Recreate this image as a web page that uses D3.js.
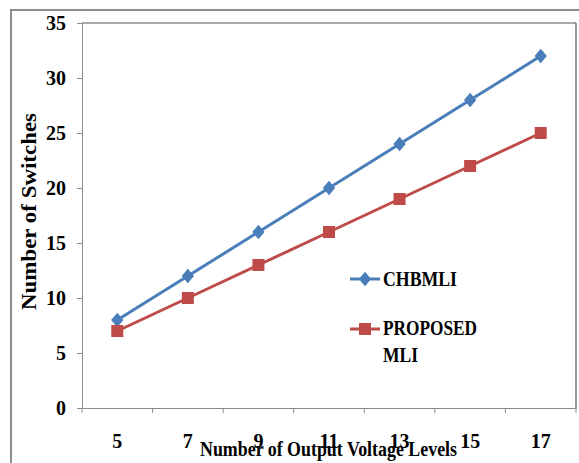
<!DOCTYPE html>
<html><head><meta charset="utf-8">
<script src="https://cdn.jsdelivr.net/npm/d3@7"></script>
<style>body{margin:0;background:#fff}svg{display:block}text{font-family:"Liberation Serif","Times New Roman",serif;font-weight:bold;fill:#000}</style>
</head><body>
<script>
const categories = ["5","7","9","11","13","15","17"];
const chbmli = [8,12,16,20,24,28,32];
const proposed = [7,10,13,16,19,22,25];
const yTicks = [0,5,10,15,20,25,30,35];

const W=579,H=463;
const svg=d3.select("body").append("svg").attr("width",W).attr("height",H);
const L=82,R=576,T=23,B=408;
const x=d3.scaleBand().domain(categories).range([L,R]);
const y=d3.scaleLinear().domain([0,35]).range([B,T]);

// outer frame
svg.append("rect").attr("x",11).attr("y",10).attr("width",W+10).attr("height",H+10)
  .attr("fill","none").attr("stroke","#8c8c8c").attr("stroke-width",2);
// plot frame top/right
svg.append("line").attr("x1",L).attr("x2",R).attr("y1",T).attr("y2",T).attr("stroke","#8c8c8c").attr("stroke-width",1.5);
svg.append("line").attr("x1",R).attr("x2",R).attr("y1",T).attr("y2",B).attr("stroke","#555").attr("stroke-width",1.2);

const yAxis=svg.append("g").attr("transform",`translate(${L},0)`)
  .call(d3.axisLeft(y).tickValues(yTicks).tickSize(5).tickPadding(11));
yAxis.selectAll("line,path").attr("stroke","#8c8c8c");
yAxis.selectAll("text").style("font-size","20px").attr("font-family",null);

const xAxis=svg.append("g").attr("transform",`translate(0,${B})`)
  .call(d3.axisBottom(x).tickSize(0).tickPadding(26).tickSizeOuter(0));
xAxis.selectAll("path").attr("stroke","#8c8c8c");
xAxis.selectAll("text").style("font-size","20px").attr("font-family",null);
// boundary ticks
const bounds=categories.map(c=>x(c)).concat([R]);
svg.append("g").selectAll("line").data(bounds).join("line")
  .attr("x1",d=>d).attr("x2",d=>d).attr("y1",B).attr("y2",B+5).attr("stroke","#8c8c8c");

const cx=d=>x(d)+x.bandwidth()/2;
const line=d3.line().x((d,i)=>cx(categories[i])).y(d=>y(d));
const blue="#4a7ebb", red="#be4b48";
svg.append("path").datum(chbmli).attr("d",line).attr("fill","none").attr("stroke",blue).attr("stroke-width",3);
svg.append("path").datum(proposed).attr("d",line).attr("fill","none").attr("stroke",red).attr("stroke-width",3);
const diamond=d3.symbol().type(d3.symbolDiamond2).size(80);
svg.append("g").selectAll("path").data(chbmli).join("path")
  .attr("d",diamond).attr("transform",(d,i)=>`translate(${cx(categories[i])},${y(d)}) scale(1.1,1.3)`).attr("fill",blue);
svg.append("g").selectAll("rect").data(proposed).join("rect")
  .attr("x",(d,i)=>cx(categories[i])-6).attr("y",d=>y(d)-6).attr("width",12).attr("height",12).attr("fill",red);

// legend
const fit=(sel,len)=>sel.attr("textLength",len).attr("lengthAdjust","spacingAndGlyphs");
const lg=svg.append("g");
lg.append("line").attr("x1",350).attr("x2",380).attr("y1",279).attr("y2",279).attr("stroke",blue).attr("stroke-width",3);
lg.append("path").attr("d",diamond).attr("transform","translate(365,279) scale(1.1,1.3)").attr("fill",blue);
fit(lg.append("text").attr("x",383).attr("y",286).style("font-size","21px").text("CHBMLI"),74);
lg.append("line").attr("x1",350).attr("x2",380).attr("y1",329).attr("y2",329).attr("stroke",red).attr("stroke-width",3);
lg.append("rect").attr("x",359).attr("y",323).attr("width",12).attr("height",12).attr("fill",red);
fit(lg.append("text").attr("x",383).attr("y",335).style("font-size","21px").text("PROPOSED"),94);
fit(lg.append("text").attr("x",383).attr("y",362).style("font-size","21px").text("MLI"),35);

// axis titles
fit(svg.append("text").attr("x",200).attr("y",456).style("font-size","21px").text("Number of Output Voltage Levels"),257);
fit(svg.append("text").attr("transform",`translate(36,310) rotate(-90)`).style("font-size","21px").text("Number of Switches"),197);
</script>
</body></html>
